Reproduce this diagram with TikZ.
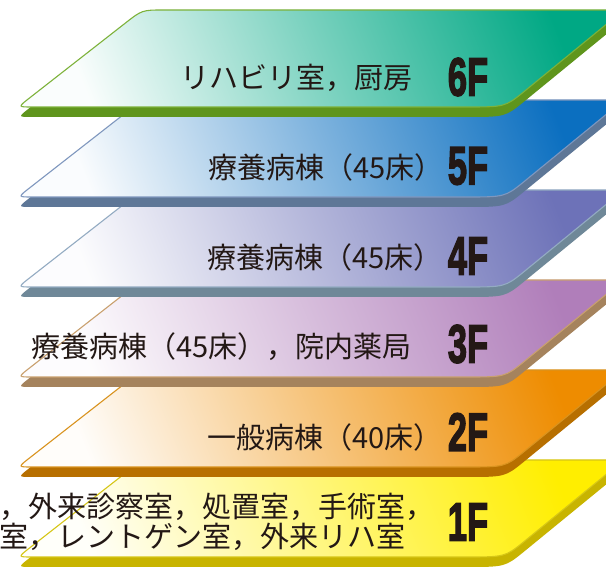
\documentclass[tikz,border=0pt]{standalone}
\usepackage{fontspec}
\setmainfont{Liberation Sans}
\newfontfamily\jpfont{Noto Sans CJK JP}
\newfontfamily\tagfont[FakeBold=3]{Liberation Sans Bold}

% floor colours: surface / rim / side
\definecolor{sixSurf}{HTML}{00A884}
\definecolor{sixRim}{HTML}{7DB23A}
\definecolor{sixSide}{HTML}{5F951C}
\definecolor{fiveSurf}{HTML}{0B6FC0}
\definecolor{fiveRim}{HTML}{7F97BE}
\definecolor{fiveSide}{HTML}{5E7797}
\definecolor{fourSurf}{HTML}{6D72B8}
\definecolor{fourRim}{HTML}{93ABC2}
\definecolor{fourSide}{HTML}{6F8898}
\definecolor{threeSurf}{HTML}{B07EBA}
\definecolor{threeRim}{HTML}{C9A06E}
\definecolor{threeSide}{HTML}{A5835D}
\definecolor{twoSurf}{HTML}{EE8C00}
\definecolor{twoRim}{HTML}{D9931F}
\definecolor{twoSide}{HTML}{B76F00}
\definecolor{oneSurf}{HTML}{FFEE00}
\definecolor{oneRim}{HTML}{D6C617}
\definecolor{oneSide}{HTML}{C8B400}
\definecolor{ink}{HTML}{231815}

% outline of one floor slab, top edge at y=#1
\newcommand{\slab}[1]{(164,#1) -- (609,#1) .. controls (624,#1) .. (612.3,#1+9.4)
  -- (523.7,#1+81.9) .. controls (505,#1+97) .. (465,#1+97)
  -- (32,#1+97) .. controls (18,#1+97) .. (29,#1+88.4)
  -- (124.7,#1+13.6) .. controls (142,#1) .. (164,#1) -- cycle}

\tikzset{
  floorside/.style={fill=#1},
  floortop/.style 2 args={draw=#2, line width=1.1pt, left color=#1!2!white,
    right color=#1, middle color=#1!52!white, shading angle=112},
  rooms/.style={font=\jpfont\fontsize{29}{30}\selectfont, text=ink,
    inner sep=0pt, anchor=west},
  floorno/.style={font=\tagfont\fontsize{54}{54}\selectfont, text=ink,
    inner sep=0pt},
}

\begin{document}
\begin{tikzpicture}[x=1pt, y=-1pt]
\path[fill=white] (0,0) rectangle (606,569);
\useasboundingbox (0,0) rectangle (606,569);
\clip (0,0) rectangle (606,569);

% slabs, lowest first
\foreach \ty/\surf/\rim/\side in {460/oneSurf/oneRim/oneSide,
    370/twoSurf/twoRim/twoSide, 280/threeSurf/threeRim/threeSide,
    190/fourSurf/fourRim/fourSide, 100/fiveSurf/fiveRim/fiveSide,
    10/sixSurf/sixRim/sixSide}{
  \path[floorside=\side] \slab{\ty+10};
  \path[floortop={\surf}{\rim}] \slab{\ty};
}

\node[rooms] (r6) at (180,78) {リハビリ室，厨房};
\node[floorno] (f6) at (468,77) {\scalebox{0.64}[1]{6F}};

\node[rooms] (r5) at (208,167) {療養病棟（45床）};
\node[floorno] (f5) at (468,166) {\scalebox{0.64}[1]{5F}};

\node[rooms] (r4) at (207,257) {療養病棟（45床）};
\node[floorno] (f4) at (468,256) {\scalebox{0.64}[1]{4F}};

\node[rooms] (r3) at (31,347) {療養病棟（45床），院内薬局};
\node[floorno] (f3) at (468,344) {\scalebox{0.64}[1]{3F}};

\node[rooms] (r2) at (207,437) {一般病棟（40床）};
\node[floorno] (f2) at (468,432) {\scalebox{0.64}[1]{2F}};

\node[rooms, align=left] (r1) at (-1,522)
  {，外来診察室，処置室，手術室，\\室，レントゲン室，外来リハ室};
\node[floorno] (f1) at (468,522) {\scalebox{0.64}[1]{1F}};
\end{tikzpicture}
\end{document}
